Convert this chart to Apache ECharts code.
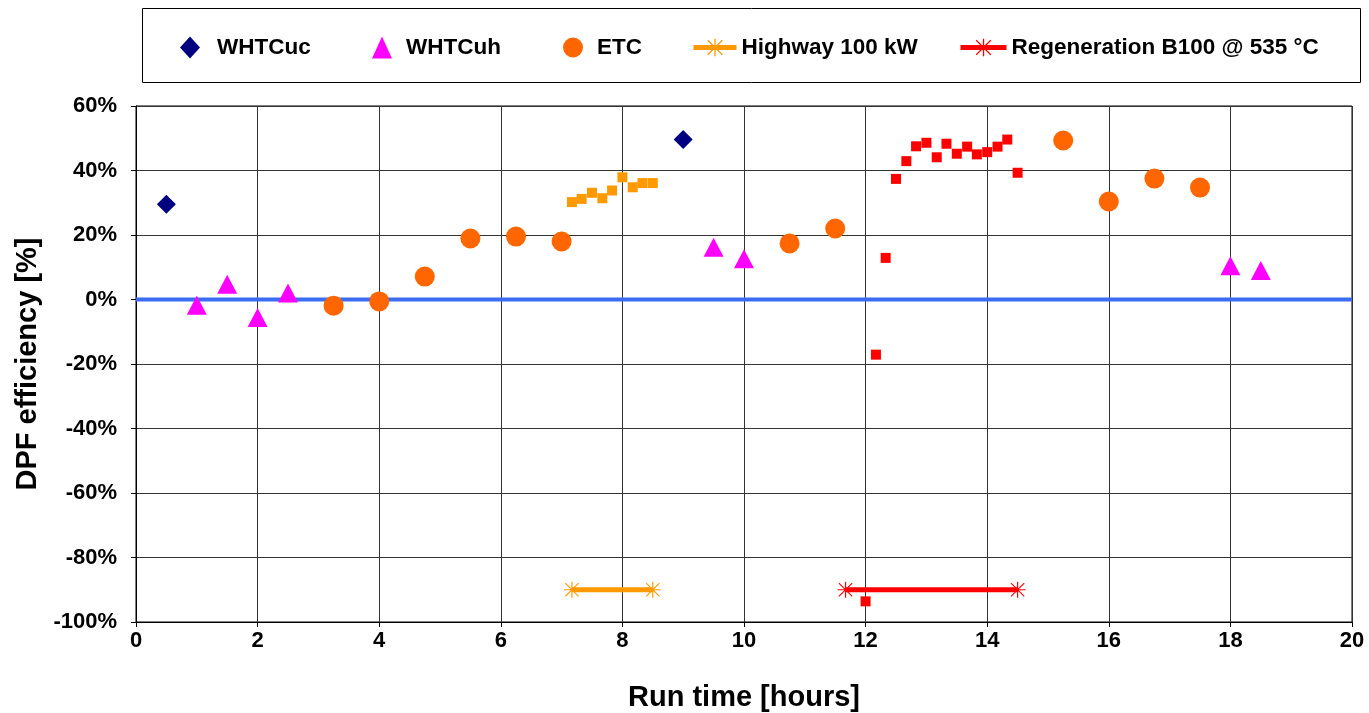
<!DOCTYPE html>
<html>
<head>
<meta charset="utf-8">
<script src="https://cdn.jsdelivr.net/npm/echarts@6/dist/echarts.min.js"></script>
<style>html,body{margin:0;padding:0;background:#fff}#c{width:1369px;height:713px}</style>
</head>
<body>
<div id="c"></div>
<script>
// ---- data ----
const whtcucData = [[0.5, 29.5], [9.0, 49.6]];
const whtcuhData = [[1.0, -1.8], [1.5, 4.7], [2.0, -5.6], [2.5, 2.0], [9.5, 16.2], [10.0, 12.6], [18.0, 10.5], [18.5, 9.0]];
const etcData = [[3.25, -1.9], [4.0, -0.6], [4.75, 7.1], [5.5, 18.9], [6.25, 19.5], [7.0, 18.0], [10.75, 17.4], [11.5, 22.0], [15.25, 49.3], [16.0, 30.4], [16.75, 37.5], [17.5, 34.7]];
const highwayPoints = [[7.17, 30.2], [7.33, 31.2], [7.5, 33.1], [7.67, 31.4], [7.83, 33.8], [8.0, 37.9], [8.17, 34.8], [8.33, 36.1], [8.5, 36.1]];
const regenPoints = [[12.0, -93.6], [12.17, -17.1], [12.33, 12.9], [12.5, 37.4], [12.67, 42.9], [12.83, 47.5], [13.0, 48.6], [13.17, 44.1], [13.33, 48.3], [13.5, 45.2], [13.67, 47.4], [13.83, 45.0], [14.0, 45.7], [14.17, 47.4], [14.33, 49.6], [14.5, 39.3]];
const highwayRange = [[7.17, -90], [8.5, -90]];
const regenRange = [[11.67, -90], [14.5, -90]];
const zeroLine = [[0, 0], [20, 0]];
const xTicks = {min: 0, max: 20, interval: 2};
const yTicks = {min: -100, max: 60, interval: 20};

const star = 'path://M9.25,0h1.5v20h-1.5z M0,9.25h20v1.5h-20z M2.2,1.2L18.8,17.8L17.8,18.8L1.2,2.2z M17.8,1.2L18.8,2.2L2.2,18.8L1.2,17.8z';
const FONT = '"Liberation Sans", Arial, sans-serif';
const legText = {fontFamily: FONT, fontWeight: 'bold', fontSize: 22.5, color: '#000'};

function leg(name, left, opts) {
  return Object.assign({
    data: [name], left: left, top: 36, orient: 'horizontal', padding: 0,
    itemWidth: 14, itemHeight: 18, selectedMode: false,
    lineStyle: {width: 5},
    textStyle: Object.assign({}, legText)
  }, opts || {});
}

const chart = echarts.init(document.getElementById('c'), null, {renderer: 'canvas'});
chart.setOption({
  animation: false,
  backgroundColor: '#fff',
  graphic: [{
    type: 'rect', left: 142, top: 8, z: -1,
    shape: {width: 1218, height: 74},
    style: {fill: '#fff', stroke: '#000', lineWidth: 1}
  }],
  legend: [
    leg('WHTCuc', 180, {itemWidth: 20, itemHeight: 22, textStyle: Object.assign({}, legText, {padding: [0, 0, 0, 12]})}),
    leg('WHTCuh', 372, {itemWidth: 20, itemHeight: 22, textStyle: Object.assign({}, legText, {padding: [0, 0, 0, 9]})}),
    leg('ETC', 563, {itemWidth: 20, itemHeight: 22, textStyle: Object.assign({}, legText, {padding: [0, 0, 0, 9]})}),
    leg('Highway 100 kW', 691, {itemWidth: 43, itemHeight: 22, textStyle: Object.assign({}, legText, {padding: [0, 0, 0, 0]})}),
    leg('Regeneration B100 @ 535 °C', 958, {itemWidth: 46, itemHeight: 22, textStyle: Object.assign({}, legText, {padding: [0, 0, 0, 0]})})
  ],
  grid: {left: 136, right: 17, top: 106, bottom: 91, show: true, borderColor: '#000', borderWidth: 1,
         containLabel: false, outerBoundsMode: 'none'},
  xAxis: {
    type: 'value', min: xTicks.min, max: xTicks.max, interval: xTicks.interval,
    name: 'Run time [hours]', nameLocation: 'middle', nameGap: 61,
    nameTextStyle: {fontFamily: FONT, fontWeight: 'bold', fontSize: 29, color: '#000'},
    axisLine: {show: true, onZero: false, lineStyle: {color: '#000', width: 1}},
    axisTick: {show: true, inside: false, length: 5, lineStyle: {color: '#000'}},
    axisLabel: {fontFamily: FONT, fontWeight: 'bold', fontSize: 22, color: '#000', margin: 8},
    splitLine: {show: true, lineStyle: {color: '#333', width: 1}}
  },
  yAxis: {
    type: 'value', min: yTicks.min, max: yTicks.max, interval: yTicks.interval,
    name: 'DPF efficiency [%]', nameLocation: 'middle', nameGap: 93,
    nameTextStyle: {fontFamily: FONT, fontWeight: 'bold', fontSize: 29, color: '#000'},
    axisLine: {show: true, lineStyle: {color: '#000', width: 1}},
    axisTick: {show: true, inside: false, length: 5, lineStyle: {color: '#000'}},
    axisLabel: {fontFamily: FONT, fontWeight: 'bold', fontSize: 22, color: '#000', margin: 19, formatter: '{value}%'},
    splitLine: {show: true, lineStyle: {color: '#333', width: 1}}
  },
  series: [
    {name: 'zero', type: 'line', data: zeroLine, symbol: 'none', z: 1, silent: true,
     lineStyle: {color: '#3a6cf4', width: 4}},
    {name: 'WHTCuc', type: 'scatter', data: whtcucData, symbol: 'diamond', symbolSize: 19, z: 3,
     itemStyle: {color: '#000080', opacity: 1}},
    {name: 'WHTCuh', type: 'scatter', data: whtcuhData, symbol: 'triangle', symbolSize: [20, 19], z: 3,
     itemStyle: {color: '#ff00ff', opacity: 1}},
    {name: 'ETC', type: 'scatter', data: etcData, symbol: 'circle', symbolSize: 20, z: 3,
     itemStyle: {color: '#ff6600', opacity: 1}},
    {name: 'Highway points', type: 'scatter', data: highwayPoints, symbol: 'rect', symbolSize: 10, z: 3,
     itemStyle: {color: '#ff9900', opacity: 1}},
    {name: 'Regeneration points', type: 'scatter', data: regenPoints, symbol: 'rect', symbolSize: 10, z: 3,
     itemStyle: {color: '#ff0000', opacity: 1}},
    {name: 'Highway 100 kW', type: 'line', data: highwayRange, symbol: star, symbolSize: 16, showAllSymbol: true, z: 4,
     lineStyle: {color: '#ff9900', width: 5}, itemStyle: {color: '#ff9900'}},
    {name: 'Regeneration B100 @ 535 °C', type: 'line', data: regenRange, symbol: star, symbolSize: 16, showAllSymbol: true, z: 4,
     lineStyle: {color: '#ff0000', width: 5}, itemStyle: {color: '#ff0000'}}
  ]
});
</script>
</body>
</html>
